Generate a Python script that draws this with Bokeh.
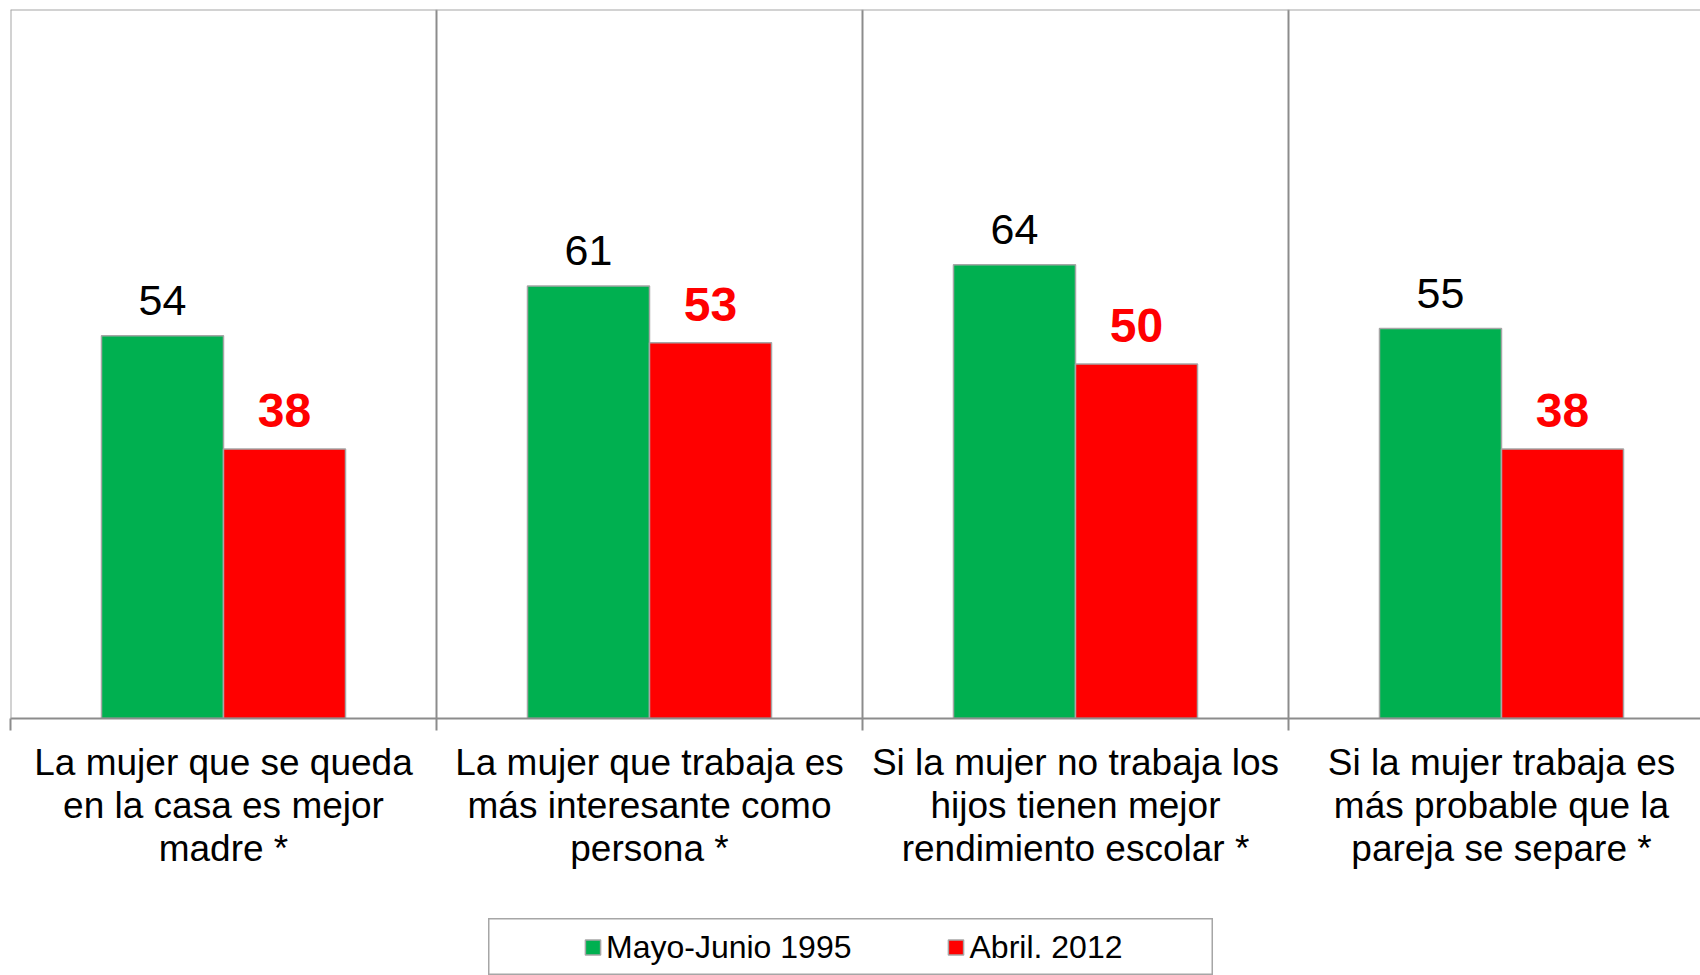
from bokeh.plotting import figure
from bokeh.models import (ColumnDataSource, FixedTicker, LabelSet, Span, Legend,
                          LegendItem, Spacer, Range1d)
from bokeh.layouts import column, row
from bokeh.core.properties import value
from bokeh.embed import file_html
from bokeh.resources import INLINE

categories = [
    "La mujer que se queda\nen la casa es mejor\nmadre *",
    "La mujer que trabaja es\nmás interesante como\npersona *",
    "Si la mujer no trabaja los\nhijos tienen mejor\nrendimiento escolar *",
    "Si la mujer trabaja es\nmás probable que la\npareja se separe *",
]
series_names = ["Mayo-Junio 1995", "Abril. 2012"]
values_1995 = [54, 61, 64, 55]
values_2012 = [38, 53, 50, 38]

GREEN = "#00B050"
RED = "#FF0000"
GRAY = "#8C8C8C"
FONT = "Liberation Sans"

idx = list(range(len(categories)))
bar_w = 0.2864
src = ColumnDataSource(dict(
    x1=[i + 0.5 - bar_w / 2 for i in idx],
    x2=[i + 0.5 + bar_w / 2 for i in idx],
    v1=values_1995,
    v2=values_2012,
    t1=[str(v) for v in values_1995],
    t2=[str(v) for v in values_2012],
))

p = figure(frame_width=1690, frame_height=709, width=1700, height=918,
           x_range=Range1d(0, 1690 / 426), y_range=Range1d(0, 100),
           output_backend="svg", toolbar_location=None,
           min_border_left=10, min_border_right=0, min_border_top=9,
           min_border_bottom=200, y_axis_location=None)
p.outline_line_color = None
p.background_fill_color = "white"

p.vbar(x="x1", top="v1", width=bar_w, source=src, fill_color=GREEN,
       line_color="#A6A6A6", line_width=1.5)
p.vbar(x="x2", top="v2", width=bar_w, source=src, fill_color=RED,
       line_color="#A6A6A6", line_width=1.5)

p.add_layout(LabelSet(x="x1", y="v1", text="t1", source=src, y_offset=21,
                      text_align="center", text_baseline="alphabetic",
                      text_font=value(FONT), text_font_size="43px", text_color="black"))
p.add_layout(LabelSet(x="x2", y="v2", text="t2", source=src, y_offset=22,
                      text_align="center", text_baseline="alphabetic",
                      text_font=value(FONT), text_font_size="48px",
                      text_font_style="bold", text_color=RED))

# borders
p.add_layout(Span(location=0, dimension="height", line_color="#A6A6A6", line_width=2))
p.add_layout(Span(location=100, dimension="width", line_color="#A6A6A6", line_width=2))

# x axis
p.xaxis.ticker = FixedTicker(ticks=[i + 0.5 for i in idx], minor_ticks=[0, 1, 2, 3])
p.xaxis.major_label_overrides = {i + 0.5: c for i, c in zip(idx, categories)}
p.xaxis.major_tick_out = 0
p.xaxis.major_tick_in = 0
p.xaxis.minor_tick_out = 12
p.xaxis.minor_tick_in = 0
p.xaxis.minor_tick_line_color = GRAY
p.xaxis.minor_tick_line_width = 2
p.xaxis.axis_line_color = GRAY
p.xaxis.axis_line_width = 2
p.xaxis.major_label_standoff = 11
p.xaxis.major_label_text_font = FONT
p.xaxis.major_label_text_font_size = "37px"
p.xaxis.major_label_text_color = "black"
p.xaxis.major_label_text_line_height = 1.05
p.xaxis.major_label_orientation = "horizontal"

p.xgrid.ticker = FixedTicker(ticks=[1, 2, 3])
p.xgrid.grid_line_color = GRAY
p.xgrid.grid_line_width = 2
p.ygrid.grid_line_color = None

# legend figure
lf = figure(width=725, height=57, x_range=Range1d(0, 1), y_range=Range1d(0, 1),
            output_backend="svg", toolbar_location=None,
            x_axis_location=None, y_axis_location=None,
            min_border=0)
lf.outline_line_color = "#A6A6A6"
lf.outline_line_width = 2
lf.xgrid.grid_line_color = None
lf.ygrid.grid_line_color = None
r1 = lf.vbar(x=[-5], top=[0], width=0.1, fill_color=GREEN, line_color="#A6A6A6", line_width=1.5)
r2 = lf.vbar(x=[-5], top=[0], width=0.1, fill_color=RED, line_color="#A6A6A6", line_width=1.5)
legend = Legend(items=[LegendItem(label=series_names[0], renderers=[r1], index=0),
                       LegendItem(label=series_names[1], renderers=[r2], index=0)],
                orientation="horizontal", location="left", margin=95, padding=0,
                spacing=95, glyph_width=19, glyph_height=19, label_standoff=4,
                label_text_font=FONT, label_text_font_size="32px",
                label_text_color="black",
                border_line_color=None, background_fill_alpha=0)
lf.add_layout(legend, "center")

layout = column(p, row(Spacer(width=488, height=57), lf))
open("out.html", "w").write(file_html(layout, INLINE))
